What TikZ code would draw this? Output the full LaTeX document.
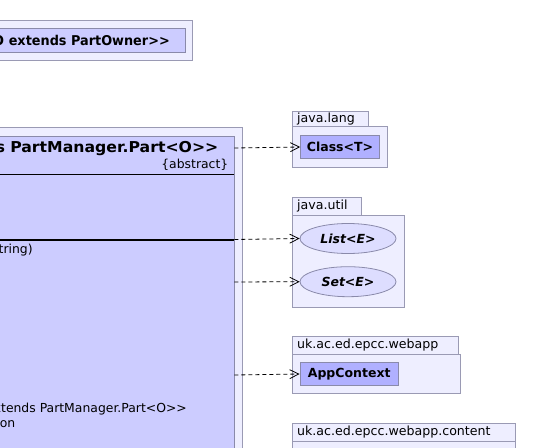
\documentclass[tikz,border=0pt]{standalone}
\usepackage{fontspec}
\setmainfont{DejaVu Sans}
\usetikzlibrary{arrows.meta,shapes.geometric}
\newcommand\GGt{>{}>}
\definecolor{pkgfill}{HTML}{EEEEFF}
\definecolor{pkgline}{HTML}{9A9AB4}
\definecolor{clsfill}{HTML}{CCCCFF}
\definecolor{clsline}{HTML}{8A8AAA}
\definecolor{extfill}{HTML}{B0B0FF}
\definecolor{ifill}{HTML}{DDDDFF}
\tikzset{
  pkg/.style={draw=pkgline,fill=pkgfill,line width=1pt},
  cls/.style={draw=clsline,fill=clsfill,line width=1pt},
  extcls/.style={draw=clsline,fill=extfill,line width=1pt,inner sep=0pt,
    font=\fontsize{12.5}{14}\selectfont\bfseries},
  iface/.style={ellipse,draw=clsline,fill=ifill,line width=0.8pt,inner sep=0pt,
    minimum width=96pt,minimum height=30pt,
    font=\fontsize{12.5}{14}\selectfont\bfseries\itshape},
  pkglabel/.style={anchor=west,inner sep=0pt,font=\fontsize{12.6}{14}\selectfont},
  member/.style={inner sep=0pt,font=\fontsize{12.4}{14}\selectfont},
  dep/.style={draw=black,line width=0.8pt,dash pattern=on 4pt off 3pt,
    -{Straight Barb[length=9pt,width=9pt]}}
}
\begin{document}
\begin{tikzpicture}[x=1pt,y=-1pt]
\useasboundingbox (0,0) rectangle (553,447);
% top generic class
\draw[pkg] (-20,20.7) rectangle (192.7,60);
\draw[cls] (-20,28.3) rectangle (185,52.7);
\node[inner sep=0pt,anchor=east,font=\fontsize{13.5}{15}\selectfont\bfseries] (topname) at (170,40.5)
  {\llap{O }\resizebox{161pt}{\height}{extends PartOwner\GGt}};
% main class
\draw[pkg] (-20,127.3) rectangle (242.3,470);
\draw[cls] (-20,136) rectangle (234.3,470);
\node[inner sep=0pt,anchor=east,font=\fontsize{15}{17}\selectfont\bfseries] (title) at (218.5,148.5)
  {\llap{s }\resizebox{208pt}{\height}{PartManager.Part<O\GGt}};
\node[member,anchor=east] (abs) at (228.5,165) {\{abstract\}};
\draw[line width=1pt] (-20,174.5) -- (234.3,174.5);
\draw[line width=2pt] (-20,239.5) -- (234.3,239.5);
\node[member,anchor=west] (m1) at (-1.5,250) {tring)};
\node[member,anchor=east] (m2) at (187,409) {extends PartManager.Part<O\GGt};
\node[member,anchor=east] (m3) at (15.5,424.5) {on};
\coordinate (s1) at (234.3,148);
\coordinate (s2) at (234.3,239.5);
\coordinate (s3) at (234.3,282);
\coordinate (s4) at (234.3,375);
% java.lang
\draw[pkg] (292.3,111) rectangle (368.3,126.7);
\draw[pkg] (292.3,126.7) rectangle (387.3,167.3);
\node[pkglabel] (l1) at (297,119) {java.lang};
\node[extcls,minimum width=78.6pt,minimum height=22.6pt] (cls) at (340,147) {Class<T>};
% java.util
\draw[pkg] (292.3,197.3) rectangle (361,215);
\draw[pkg] (292.3,215) rectangle (404,307.3);
\node[pkglabel] (l2) at (297,206) {java.util};
\node[iface] (list) at (348,238.5) {List<E>};
\node[iface] (set) at (348,281.7) {Set<E>};
% webapp
\draw[pkg] (292.3,336) rectangle (458.3,354);
\draw[pkg] (292.3,354) rectangle (460.7,393.3);
\node[pkglabel] (l3) at (297,345) {uk.ac.ed.epcc.webapp};
\node[extcls,minimum width=98.3pt,minimum height=23.4pt] (app) at (349.2,374) {AppContext};
% webapp.content
\draw[pkg] (292.3,423.3) rectangle (515.7,441);
\draw[pkg] (292.3,441) rectangle (515.7,470);
\node[pkglabel] (l4) at (297,432) {uk.ac.ed.epcc.webapp.content};
% dependencies
\draw[dep] (s1) -- (cls.west);
\draw[dep] (s2) -- (list.west);
\draw[dep] (s3) -- (set.west);
\draw[dep] (s4) -- (app.west);
\end{tikzpicture}
\end{document}
